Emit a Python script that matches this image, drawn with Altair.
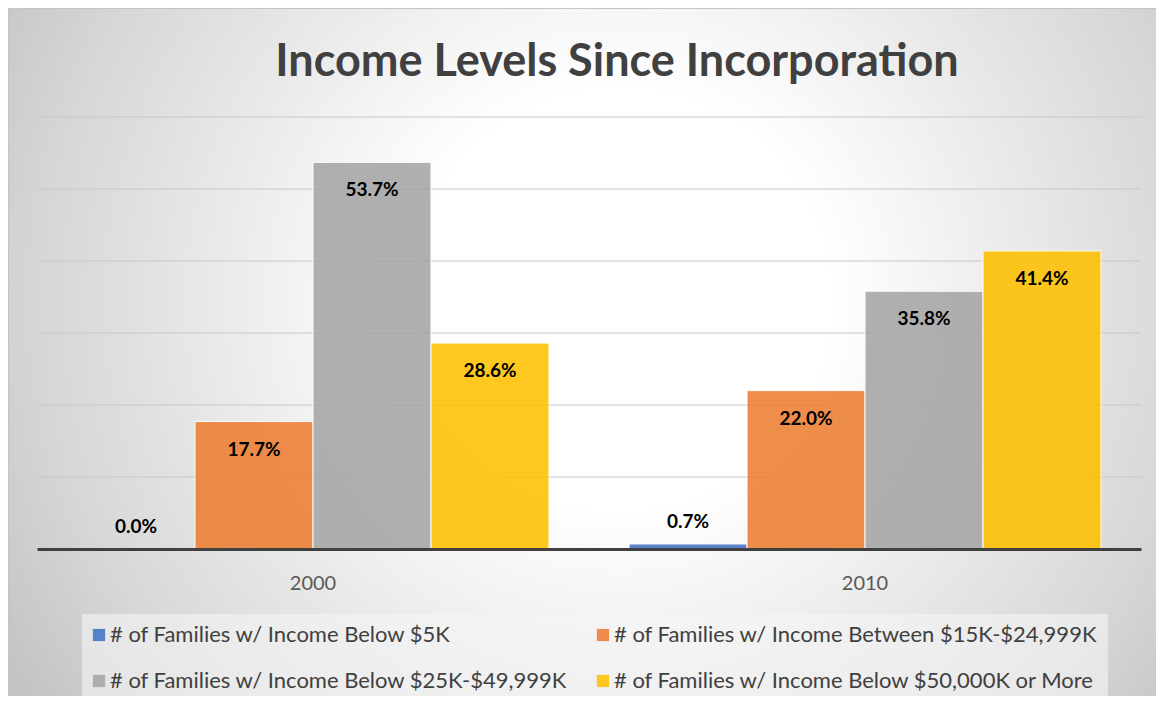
import altair as alt
import pandas as pd

title_text = "Income Levels Since Incorporation"
years = ["2000", "2010"]
series = [
    "# of Families w/ Income Below $5K",
    "# of Families w/ Income Between $15K-$24,999K",
    "# of Families w/ Income Below $25K-$49,999K",
    "# of Families w/ Income Below $50,000K or More",
]
colors = ["#4472C4", "#ED7D31", "#A5A5A5", "#FFC000"]
values_2000 = [0.0, 17.7, 53.7, 28.6]
values_2010 = [0.7, 22.0, 35.8, 41.4]
grid_values = [10, 20, 30, 40, 50, 60]

rows = []
for yr, vals in zip(years, [values_2000, values_2010]):
    for s, v in zip(series, vals):
        rows.append({"year": yr, "series": s, "value": v})
df = pd.DataFrame(rows)

FONT = "Lato"
W, H = 1104, 432

gradient = {
    "gradient": "radial",
    "x1": 0.53, "y1": 0.45, "r1": 0,
    "x2": 0.53, "y2": 0.45, "r2": 0.70,
    "stops": [
        {"offset": 0, "color": "#ffffff"},
        {"offset": 0.26, "color": "#ffffff"},
        {"offset": 0.72, "color": "#d6d6d6"},
        {"offset": 1, "color": "#b6b6b6"},
    ],
}

bg = alt.Chart(alt.Data(values=[{}])).mark_rect(
    fill=gradient, stroke="#c4c4c4", strokeWidth=1
).encode(
    x=alt.value(-28.5), x2=alt.value(1125), y=alt.value(-108.5), y2=alt.value(590)
)

title = alt.Chart(alt.Data(values=[{"t": title_text}])).mark_text(
    font=FONT, fontSize=45, fontWeight="bold", color="#404040",
    align="center", baseline="alphabetic"
).encode(x=alt.value(W / 2 + 28), y=alt.value(-41), text="t:N")

y_scale = alt.Scale(domain=[0, 60], nice=False)

grid = alt.Chart(pd.DataFrame({"v": grid_values})).mark_rule(
    color="#c8c8c8", strokeWidth=1
).encode(y=alt.Y("v:Q", scale=y_scale, axis=None))

x_enc = alt.X(
    "year:N", sort=years, title=None,
    scale=alt.Scale(paddingInner=0.145, paddingOuter=0.0725),
    axis=alt.Axis(
        labelFont=FONT, labelFontSize=20, labelColor="#595959", labelPadding=24,
        ticks=False, domainColor="#404040", domainWidth=3, grid=False,
        zindex=1, labelAngle=0,
    ),
)
xo = alt.XOffset("series:N", sort=series, scale=alt.Scale(paddingInner=0, paddingOuter=0))
y_enc = alt.Y("value:Q", scale=y_scale, axis=None)

bars = alt.Chart(df).mark_bar(opacity=0.87, stroke="white", strokeWidth=1).encode(
    x=x_enc, xOffset=xo, y=y_enc,
    color=alt.Color(
        "series:N", sort=series,
        scale=alt.Scale(domain=series, range=colors),
        legend=alt.Legend(
            title=None, orient="none", legendX=45, legendY=497,
            direction="horizontal", columns=2, columnPadding=28, rowPadding=24,
            padding=10, fillColor="rgba(245,245,245,0.6)",
            labelFont=FONT, labelFontSize=22, labelColor="#404040", labelLimit=800,
            labelOffset=0, symbolOffset={"expr": "-4"},
            symbolType="square", symbolSize=150, symbolStrokeWidth=0,
        ),
    ),
)

labels = alt.Chart(df).transform_calculate(label="format(datum.value, '.1f') + '%'")
big = labels.transform_filter("datum.value >= 5").mark_text(
    font=FONT, fontSize=19, fontWeight="bold", color="black", dy=28, baseline="middle"
).encode(x=x_enc, xOffset=xo, y=y_enc, text="label:N")
small = labels.transform_filter("datum.value < 5").mark_text(
    font=FONT, fontSize=19, fontWeight="bold", color="black", dy=-22, baseline="middle"
).encode(x=x_enc, xOffset=xo, y=y_enc, text="label:N")

chart = alt.layer(bg, grid, bars, big, small, title).properties(
    width=W, height=H,
    padding={"left": 29, "top": 109, "right": 15, "bottom": 147},
    autosize=alt.AutoSizeParams(type="none"),
).configure_view(stroke=None)

chart.save("out.html", embed_options={"renderer": "svg", "actions": False})
